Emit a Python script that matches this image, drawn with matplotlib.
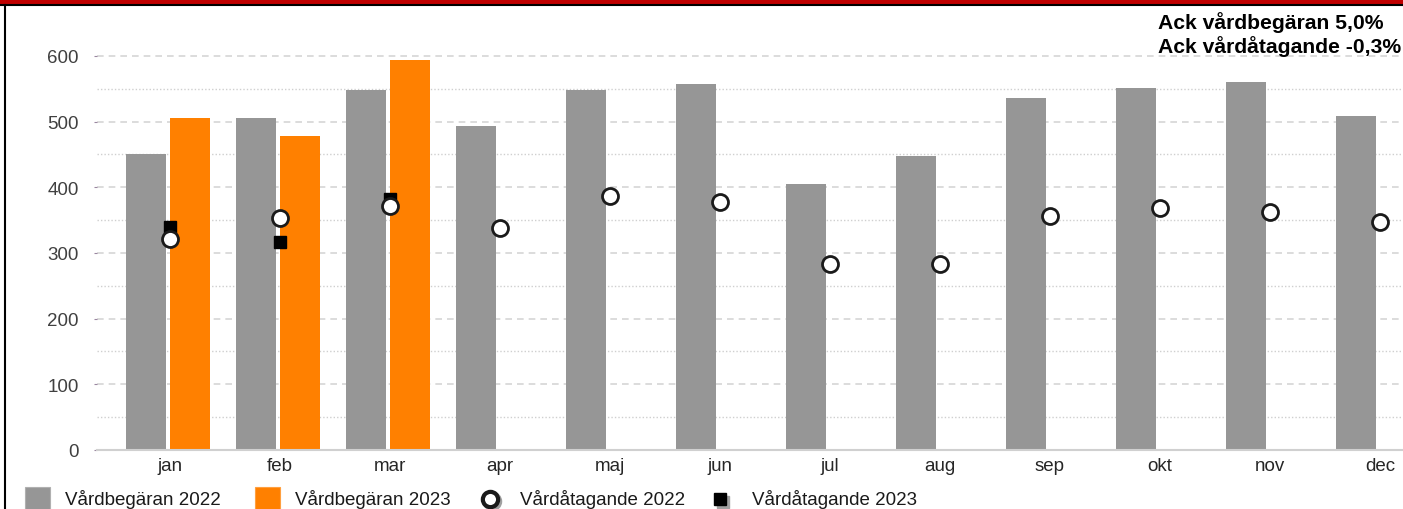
import numpy as np
import matplotlib.pyplot as plt
from matplotlib.patches import Rectangle
from matplotlib.lines import Line2D

plt.rcParams['font.family'] = ['Liberation Sans', 'DejaVu Sans']

months = ['jan', 'feb', 'mar', 'apr', 'maj', 'jun', 'jul', 'aug', 'sep', 'okt', 'nov', 'dec']
begaran_2022 = [450, 505, 548, 493, 548, 557, 405, 447, 536, 551, 560, 508]
begaran_2023 = [505, 478, 594]
atagande_2022 = [321, 353, 371, 338, 387, 377, 283, 283, 356, 368, 362, 347]
atagande_2023 = [339, 317, 382]
summary = ['Ack vårdbegäran 5,0%', 'Ack vårdåtagande -0,3%']
labels = ['Vårdbegäran 2022', 'Vårdbegäran 2023', 'Vårdåtagande 2022', 'Vårdåtagande 2023']

GRAY = '#969696'
ORANGE = '#ff8000'

W, H = 1403, 510
fig = plt.figure(figsize=(W / 100, H / 100), dpi=100)

# plot area in pixels: x 97 -> past right edge, y=0 at 451, 100 units = 65.67 px
ymax = 620
px_per_unit = 65.67 / 100
ax = fig.add_axes([97 / W, (H - 451) / H, (W - 97) / W, ymax * px_per_unit / H])

x = np.arange(len(months))
bw = 40 / 110
ax.bar(x - 24 / 110, begaran_2022, width=bw, color=GRAY, zorder=2)
ax.bar(x[:len(begaran_2023)] + 20 / 110, begaran_2023, width=bw, color=ORANGE, zorder=2)
ax.plot(x[:len(atagande_2023)], atagande_2023, ls='none', marker='s', ms=8.5,
        color='black', zorder=3)
ax.plot(x, atagande_2022, ls='none', marker='o', ms=11.5, mfc='white',
        mec='#1a1a1a', mew=2, zorder=4)

ax.set_xlim((97 - 170) / 110, (W - 170) / 110)
ax.set_ylim(0, ymax)
ax.set_yticks(np.arange(0, 601, 100))
ax.set_yticks(np.arange(50, 600, 100), minor=True)
ax.set_xticks(x)
ax.set_xticklabels(months)

for s in ['top', 'right', 'left']:
    ax.spines[s].set_visible(False)
ax.spines['bottom'].set_color('#d0d0d0')
ax.spines['bottom'].set_linewidth(1.5)

ax.grid(axis='y', which='major', color='#d6d6d6', lw=1.2, ls=(0, (4, 3)), zorder=0)
ax.grid(axis='y', which='minor', color='#cfcfcf', lw=1.0, ls=(0, (1, 1.5)), zorder=0)
ax.tick_params(axis='y', which='major', length=2, color='#9a86a0', pad=11,
               labelsize=13.5, labelcolor='#404040')
ax.tick_params(axis='y', which='minor', length=0)
ax.tick_params(axis='x', length=0, pad=5, labelsize=13.5, labelcolor='#262626')

# legend drawn by hand (Excel style, fixed slots)
ly = 1 - 500 / H
def fx(px):
    return px / W

fig.patches.append(Rectangle((fx(25), 1 - 513 / H), fx(25), 25 / H, transform=fig.transFigure,
                             facecolor=GRAY, edgecolor='#b0b0b0', lw=0.8))
fig.patches.append(Rectangle((fx(255), 1 - 513 / H), fx(25), 25 / H, transform=fig.transFigure,
                             facecolor=ORANGE, edgecolor='#ffa040', lw=0.8))
fig.add_artist(Line2D([fx(492)], [ly - 2 / H], transform=fig.transFigure, ls='none',
                      marker='o', ms=11, mfc='none', mec='#a0a0a0', mew=3))
fig.add_artist(Line2D([fx(490)], [ly], transform=fig.transFigure, ls='none',
                      marker='o', ms=11, mfc='white', mec='#1a1a1a', mew=3))
fig.add_artist(Line2D([fx(723)], [ly - 3 / H], transform=fig.transFigure, ls='none',
                      marker='s', ms=8, color='#a0a0a0'))
fig.add_artist(Line2D([fx(720)], [ly], transform=fig.transFigure, ls='none',
                      marker='s', ms=8, color='black'))
for tx, lab in zip([65, 295, 520, 752], labels):
    fig.text(fx(tx), ly, lab, ha='left', va='center', fontsize=13.5, color='#1a1a1a')

fig.text(1158 / W, 1 - 12 / H, summary[0] + '\n' + summary[1], ha='left', va='top',
         fontsize=15.2, fontweight='bold', color='black', linespacing=1.15)

# frame: red band on top, black rule below, black left border
fig.patches.append(Rectangle((0, 1 - 5 / H), 1, 5 / H, transform=fig.transFigure,
                             facecolor='#c00000', edgecolor='none'))
fig.add_artist(Line2D([0, 1], [1 - 6 / H, 1 - 6 / H], transform=fig.transFigure,
                      color='black', lw=1.5))
fig.add_artist(Line2D([5 / W, 5 / W], [0, 1 - 6 / H], transform=fig.transFigure,
                      color='black', lw=1.5))

fig.savefig('out.png', dpi=100)
